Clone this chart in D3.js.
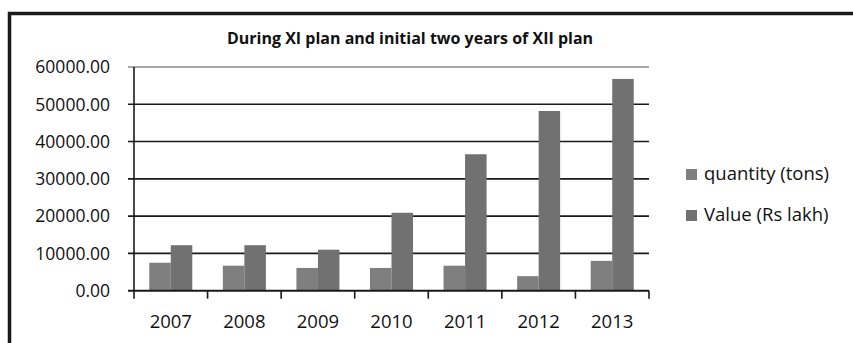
<!DOCTYPE html>
<html>
<head>
<meta charset="utf-8">
<script src="https://cdn.jsdelivr.net/npm/d3@7"></script>
<style>
  html, body { margin: 0; padding: 0; background: #fff; }
  svg { display: block; }
</style>
</head>
<body>
<svg id="chart" width="853" height="343"></svg>
<script>
// Years on the category axis
const years = ["2007", "2008", "2009", "2010", "2011", "2012", "2013"];
// Series names shown in the legend
const seriesNames = ["quantity (tons)", "Value (Rs lakh)"];
// Quantity exported, tons
const quantity = [7500, 6700, 6100, 6100, 6700, 3900, 8000];
// Value, Rs lakh
const value = [12200, 12200, 11000, 20900, 36600, 48200, 56800];
// Y axis ticks
const yTicks = [0, 10000, 20000, 30000, 40000, 50000, 60000];
const titleText = "During XI plan and initial two years of XII plan";

const seriesValues = [quantity, value];
const colors = ["#7f7f7f", "#717171"];

const svg = d3.select("#chart");
const font = "'Open Sans', sans-serif";

// outer frame (top and left edges visible)
svg.append("path")
  .attr("d", "M9.5,343 L9.5,13.5 L853,13.5")
  .attr("fill", "none")
  .attr("stroke", "#1a1a1a")
  .attr("stroke-width", 3.5);

const plotLeft = 134, plotRight = 649, plotTop = 67, plotBottom = 290.7;

const y = d3.scaleLinear().domain([0, 60000]).range([plotBottom, plotTop]);
const x0 = d3.scaleBand().domain(years).range([plotLeft, plotRight]).paddingInner(0).paddingOuter(0);
const x1 = d3.scaleBand().domain(d3.range(seriesNames.length)).range([0, x0.bandwidth()]).paddingInner(0).paddingOuter(0.71);

// horizontal gridlines with small ticks left of the axis
svg.append("g").selectAll("line")
  .data(yTicks)
  .join("line")
  .attr("x1", plotLeft - 6)
  .attr("x2", plotRight)
  .attr("y1", d => y(d))
  .attr("y2", d => y(d))
  .attr("stroke", d => d === 60000 ? "#8a8a8a" : "#1a1a1a")
  .attr("stroke-width", 1.6);

// bars
const groups = svg.append("g").selectAll("g")
  .data(years)
  .join("g")
  .attr("transform", d => `translate(${x0(d)},0)`);

groups.selectAll("rect")
  .data((d, i) => seriesValues.map((s, k) => ({ k, v: s[i] })))
  .join("rect")
  .attr("x", d => x1(d.k))
  .attr("width", x1.bandwidth())
  .attr("y", d => y(d.v))
  .attr("height", d => y(0) - y(d.v))
  .attr("fill", d => colors[d.k]);

// baseline redrawn over the bars
svg.append("line")
  .attr("x1", plotLeft - 6).attr("x2", plotRight)
  .attr("y1", y(0)).attr("y2", y(0))
  .attr("stroke", "#1a1a1a").attr("stroke-width", 1.8);

// vertical axis line
svg.append("line")
  .attr("x1", plotLeft).attr("x2", plotLeft)
  .attr("y1", plotTop).attr("y2", plotBottom + 8)
  .attr("stroke", "#1a1a1a").attr("stroke-width", 1.6);

// category tick marks at band boundaries
const bounds = years.map(d => x0(d)).concat([plotRight]);
svg.append("g").selectAll("line")
  .data(bounds.slice(1))
  .join("line")
  .attr("x1", d => d).attr("x2", d => d)
  .attr("y1", plotBottom).attr("y2", plotBottom + 8)
  .attr("stroke", "#1a1a1a").attr("stroke-width", 1.6);

// y tick labels
svg.append("g").selectAll("text")
  .data(yTicks)
  .join("text")
  .attr("x", 110)
  .attr("y", d => y(d))
  .attr("dy", "0.36em")
  .attr("text-anchor", "end")
  .attr("font-family", font)
  .attr("font-size", 17.5)
  .attr("fill", "#111")
  .text(d => d3.format(".2f")(d));

// x labels
svg.append("g").selectAll("text")
  .data(years)
  .join("text")
  .attr("x", d => x0(d) + x0.bandwidth() / 2)
  .attr("y", 328)
  .attr("text-anchor", "middle")
  .attr("font-family", font)
  .attr("font-size", 18.5)
  .attr("fill", "#111")
  .text(d => d);

// title
svg.append("text")
  .attr("x", 410)
  .attr("y", 44)
  .attr("text-anchor", "middle")
  .attr("font-family", font)
  .attr("font-weight", "bold")
  .attr("font-size", 16)
  .attr("fill", "#111")
  .text(titleText);

// legend
const legend = svg.append("g").selectAll("g")
  .data(seriesNames)
  .join("g")
  .attr("transform", (d, i) => `translate(686,${169 + i * 41})`);
legend.append("rect")
  .attr("width", 11).attr("height", 11)
  .attr("fill", (d, i) => colors[i]);
legend.append("text")
  .attr("x", 18)
  .attr("y", 11)
  .attr("font-family", font)
  .attr("font-size", 18.5)
  .attr("fill", "#111")
  .text(d => d);
</script>
</body>
</html>
